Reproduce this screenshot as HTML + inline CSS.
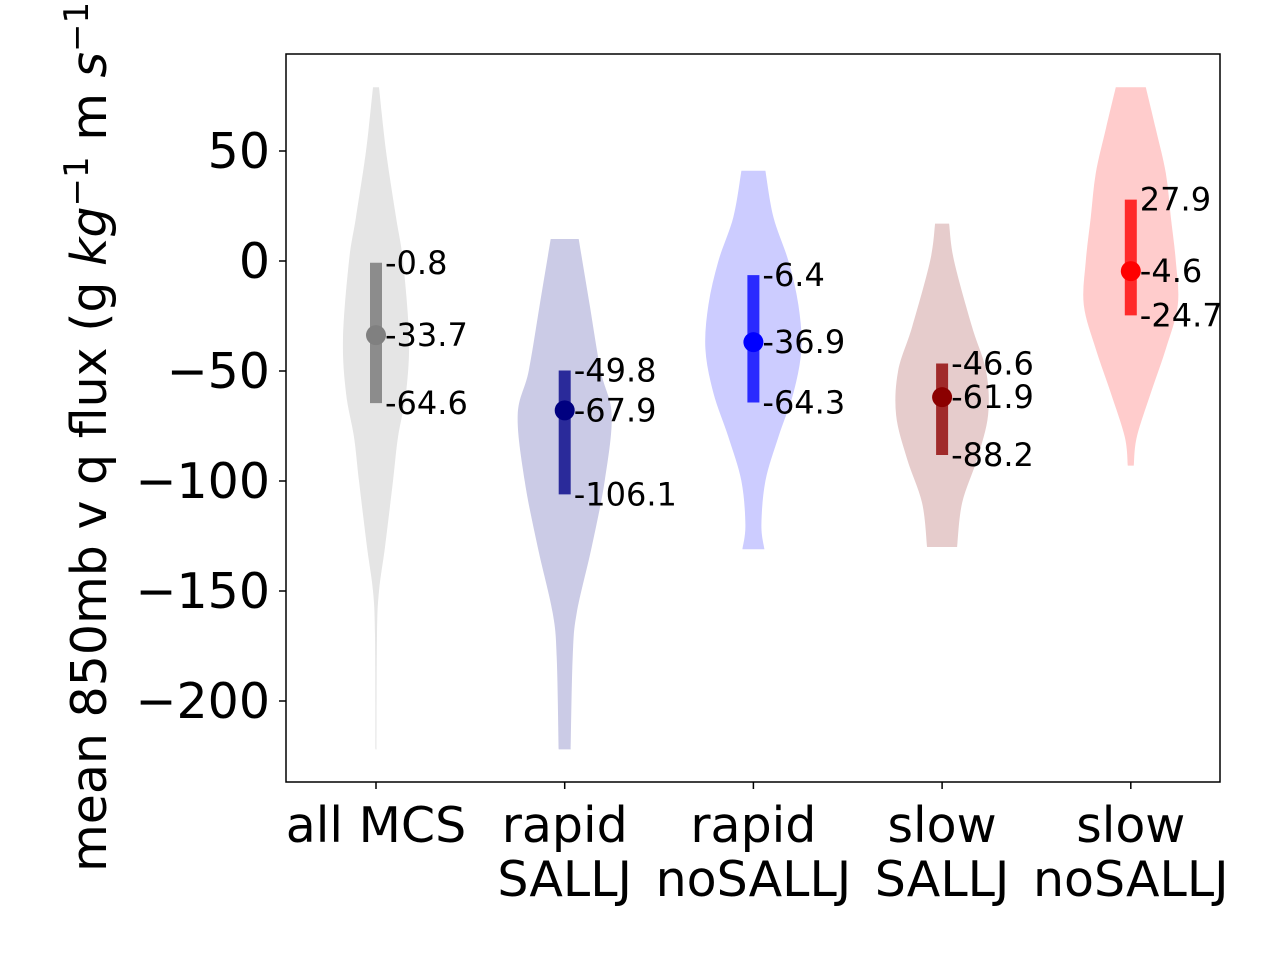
<!DOCTYPE html>
<html><head><meta charset="utf-8"><style>
html,body{margin:0;padding:0;background:#fff;}
svg{display:block;font-family:"DejaVu Sans","Liberation Sans",sans-serif;}
</style></head><body>
<svg id="chart" width="1280" height="960" viewBox="0 0 1280 960">
<g id="violins"></g>
<g id="stats"></g>
<rect x="286" y="54" width="934" height="728" fill="none" stroke="#000" stroke-width="1.5"/>
<g id="yaxis"></g>
<g id="xaxis"></g>
<text transform="translate(106,872) rotate(-90)" font-size="49" fill="#000">mean 850mb v q flux (g <tspan font-style="italic">kg</tspan><tspan dy="-18" font-size="34">−1</tspan><tspan dy="18"> m </tspan><tspan font-style="italic">s</tspan><tspan dy="-18" font-size="34">−1</tspan><tspan dy="18">)</tspan></text>
</svg>
<script>
const categories = [["all MCS"],["rapid","SALLJ"],["rapid","noSALLJ"],["slow","SALLJ"],["slow","noSALLJ"]];
const q1 = [-64.6,-106.1,-64.3,-88.2,-24.7];
const medians = [-33.7,-67.9,-36.9,-61.9,-4.6];
const q3 = [-0.8,-49.8,-6.4,-46.6,27.9];
const yTicks = [50,0,-50,-100,-150,-200];
// violin density profiles: [value, half-width]
const profile0 = [[79,3],[50,10],[20,20],[0,27],[-35,33],[-60,30],[-80,22],[-100,17],[-130,9],[-150,3],[-170,1],[-222,0.5]];
const profile1 = [[10,14],[-20,25],[-50,36],[-70,47],[-100,40],[-130,27],[-160,12],[-180,8],[-222,6]];
const profile2 = [[41,12],[20,20],[0,35],[-20,45],[-40,48],[-60,40],[-80,25],[-100,12],[-120,8],[-131,11]];
const profile3 = [[17,7],[0,12],[-30,30],[-50,44],[-70,46],[-90,35],[-110,20],[-130,15]];
const profile4 = [[79,15],[60,25],[40,35],[20,40],[0,45],[-20,47],[-40,35],[-60,20],[-80,6],[-93,3]];
const profiles=[profile0,profile1,profile2,profile3,profile4];
const fills=["#e5e5e5","#cbcbe6","#ccccff","#e6cccc","#ffcccc"];
const barCols=["#8c8c8c","#2a2a9a","#2a2aff","#a02a2a","#ff2a2a"];
const dotCols=["#808080","#000080","#0000ff","#8b0000","#ff0000"];
const NS="http://www.w3.org/2000/svg";
const xs=i=>376+i*188.7;
const ys=v=>261-2.2*v;
function mk(tag,attrs,parent){const e=document.createElementNS(NS,tag);for(const k in attrs)e.setAttribute(k,attrs[k]);parent.appendChild(e);return e;}
function smooth(pts){
  let d='M'+pts[0][0]+','+pts[0][1];
  for(let i=0;i<pts.length-1;i++){
    const p0=pts[Math.max(0,i-1)],p1=pts[i],p2=pts[i+1],p3=pts[Math.min(pts.length-1,i+2)];
    const c1=[p1[0]+(p2[0]-p0[0])/6,p1[1]+(p2[1]-p0[1])/6];
    const c2=[p2[0]-(p3[0]-p1[0])/6,p2[1]-(p3[1]-p1[1])/6];
    d+=' C'+c1[0]+','+c1[1]+' '+c2[0]+','+c2[1]+' '+p2[0]+','+p2[1];
  }
  return d;
}
const gv=document.getElementById('violins'),gs=document.getElementById('stats'),gy=document.getElementById('yaxis'),gx=document.getElementById('xaxis');
profiles.forEach((p,i)=>{
  const cx=xs(i);
  const right=p.map(pt=>[cx+pt[1],ys(pt[0])]);
  const left=p.slice().reverse().map(pt=>[cx-pt[1],ys(pt[0])]);
  let d=smooth(right)+' L'+left[0][0]+','+left[0][1]+' '+smooth(left).slice(1).replace(/^[^C]*/,'')+' Z';
  const v=mk('path',{d:d,fill:fills[i]},gv);
  
  
  const b=mk('line',{x1:cx,x2:cx,y1:ys(q1[i]),y2:ys(q3[i]),stroke:barCols[i],'stroke-width':12},gs);
  
  
  const c=mk('circle',{cx:cx,cy:ys(medians[i]),r:10,fill:dotCols[i]},gs);
  
  
  [[q3[i],'q3'],[medians[i],'median'],[q1[i],'q1']].forEach(([val,n])=>{
    const t=mk('text',{x:cx+9,y:ys(val)+11,'font-size':32,fill:'#000'},gs);
    t.textContent=val.toFixed(1);
    
    
  });
  categories[i].forEach((line,k)=>{
    const t=mk('text',{x:cx,y:842+k*54,'font-size':49,'text-anchor':'middle',fill:'#000'},gx);
    t.textContent=line;
    
    
  });
  const tk=mk('line',{x1:cx,x2:cx,y1:782,y2:789,stroke:'#000','stroke-width':1.5},gx);
  
  
});
yTicks.forEach(v=>{
  const tk=mk('line',{x1:279,x2:286,y1:ys(v),y2:ys(v),stroke:'#000','stroke-width':1.5},gy);
  
  
  const t=mk('text',{x:270,y:ys(v)+17,'font-size':49,'text-anchor':'end',fill:'#000'},gy);
  t.textContent=v<0?'−'+Math.abs(v):String(v);
  
  
});
</script>
</body></html>
